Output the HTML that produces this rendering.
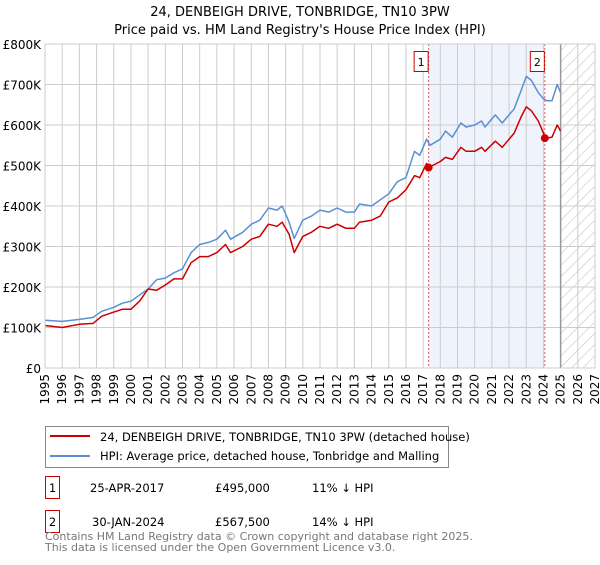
<!DOCTYPE html>
<html><head><meta charset="utf-8"><style>
body{margin:0;background:#fff;font-family:"Liberation Sans","DejaVu Sans",sans-serif;}
svg text{font-family:"DejaVu Sans","Liberation Sans",sans-serif;}
</style></head><body>
<svg id="chart" width="600" height="560" xmlns="http://www.w3.org/2000/svg">
<defs><pattern id="hatch" patternUnits="userSpaceOnUse" width="8" height="8" patternTransform="rotate(45)"><line x1="0" y1="0" x2="0" y2="8" stroke="#bbb" stroke-width="1"/></pattern></defs>
<text x="300" y="16" text-anchor="middle" font-size="13">24, DENBEIGH DRIVE, TONBRIDGE, TN10 3PW</text>
<text x="300" y="34" text-anchor="middle" font-size="13">Price paid vs. HM Land Registry's House Price Index (HPI)</text>
<g id="plot"></g>
<g>
<rect x="45.5" y="426.5" width="403" height="41" fill="#fff" stroke="#888"/>
<line x1="50" y1="436" x2="90" y2="436" stroke="#cc0000" stroke-width="2"/>
<text x="100" y="441" font-size="11.5">24, DENBEIGH DRIVE, TONBRIDGE, TN10 3PW (detached house)</text>
<line x1="50" y1="456" x2="90" y2="456" stroke="#5b8fd4" stroke-width="2"/>
<text x="100" y="460" font-size="11.5">HPI: Average price, detached house, Tonbridge and Malling</text>
</g>
<g font-size="11.5">
<rect x="45.5" y="476.5" width="14" height="22" fill="#fff" stroke="#cc0000"/>
<text x="52.5" y="492" text-anchor="middle">1</text>
<text x="90" y="492">25-APR-2017</text><text x="215" y="492">£495,000</text><text x="312" y="492">11% ↓ HPI</text>
</g>
<g font-size="11.5">
<rect x="45.5" y="510.5" width="14" height="22" fill="#fff" stroke="#cc0000"/>
<text x="52.5" y="526" text-anchor="middle">2</text>
<text x="92" y="526">30-JAN-2024</text><text x="215" y="526">£567,500</text><text x="312" y="526">14% ↓ HPI</text>
</g>
<text x="45" y="540" font-size="11" fill="#777">Contains HM Land Registry data © Crown copyright and database right 2025.</text>
<text x="45" y="551" font-size="11" fill="#777">This data is licensed under the Open Government Licence v3.0.</text>
</svg>
<script>
const hpiYears=[1995,1996,1997,1997.8,1998.3,1999,1999.5,2000,2000.5,2001,2001.5,2002,2002.5,2003,2003.5,2004,2004.5,2005,2005.5,2005.8,2006.5,2007,2007.5,2008,2008.5,2008.8,2009.2,2009.5,2010,2010.5,2011,2011.5,2012,2012.5,2013,2013.3,2014,2014.5,2015,2015.5,2016,2016.5,2016.8,2017.2,2017.4,2018,2018.3,2018.7,2019.2,2019.5,2020,2020.4,2020.6,2021.2,2021.6,2022.3,2022.7,2023.0,2023.3,2023.7,2024.0,2024.2,2024.5,2024.8,2025.0];
const hpiValues=[118,115,120,125,140,150,160,165,180,195,218,222,235,245,285,305,310,318,340,318,335,355,365,395,390,400,360,320,365,375,390,385,395,385,385,405,400,415,430,460,470,535,525,565,550,565,585,570,605,595,600,610,595,625,605,640,685,720,710,680,665,660,660,700,680];
const priceYears=[1995,1996,1997,1997.8,1998.3,1999,1999.5,2000,2000.5,2001,2001.5,2002,2002.5,2003,2003.5,2004,2004.5,2005,2005.5,2005.8,2006.5,2007,2007.5,2008,2008.5,2008.8,2009.2,2009.5,2010,2010.5,2011,2011.5,2012,2012.5,2013,2013.3,2014,2014.5,2015,2015.5,2016,2016.5,2016.8,2017.2,2017.32,2018,2018.3,2018.7,2019.2,2019.5,2020,2020.4,2020.6,2021.2,2021.6,2022.3,2022.7,2023.0,2023.3,2023.7,2024.0,2024.08,2024.5,2024.8,2025.0];
const priceValues=[105,100,108,110,128,138,145,145,165,195,192,205,220,220,260,275,275,285,305,285,300,318,325,355,350,360,330,285,325,335,350,345,355,345,345,360,365,375,410,420,440,475,470,505,495,510,520,515,545,535,535,545,535,560,545,580,620,645,635,610,580,567.5,570,600,585];
const saleYears=[2017.32,2024.08];
const saleValues=[495,567.5];
const saleLabels=["1","2"];
const yTicks=[0,100,200,300,400,500,600,700,800];
const yTickLabels=["£0","£100K","£200K","£300K","£400K","£500K","£600K","£700K","£800K"];
const xTicks=[1995,1996,1997,1998,1999,2000,2001,2002,2003,2004,2005,2006,2007,2008,2009,2010,2011,2012,2013,2014,2015,2016,2017,2018,2019,2020,2021,2022,2023,2024,2025,2026,2027];

const X0=45,X1=595,Y0=368,Y1=44;
const xs=y=>X0+(y-1995)/(2027-1995)*(X1-X0);
const ys=v=>Y0-v/800*(Y0-Y1);
const NS="http://www.w3.org/2000/svg";
const g=document.getElementById('plot');
function mk(t,a){const e=document.createElementNS(NS,t);for(const k in a)e.setAttribute(k,a[k]);g.appendChild(e);return e;}
// shaded region
let sh=mk('rect',{x:xs(saleYears[0]),y:Y1,width:xs(saleYears[1])-xs(saleYears[0]),height:Y0-Y1,fill:'#eef3fc'});


let ht=mk('rect',{x:xs(2025),y:Y1,width:X1-xs(2025),height:Y0-Y1,fill:'url(#hatch)'});


xTicks.forEach(t=>{
 const l=mk('line',{x1:xs(t),x2:xs(t),y1:Y1,y2:Y0,stroke:'#ccc','stroke-width':1});
 
 
 const tx=mk('text',{x:0,y:0,'font-size':12,'text-anchor':'end',transform:`translate(${xs(t)+4},${Y0+6}) rotate(-90)`});
 tx.textContent=t;
 
 
});
yTicks.forEach((t,i)=>{
 const l=mk('line',{x1:X0,x2:X1,y1:ys(t),y2:ys(t),stroke:'#ccc','stroke-width':1});
 
 
 const tx=mk('text',{x:X0-4,y:ys(t)+5,'font-size':12,'text-anchor':'end'});
 tx.textContent=yTickLabels[i];
 
 
});
let vl=mk('line',{x1:xs(2025),x2:xs(2025),y1:Y1,y2:Y0,stroke:'#999','stroke-width':1.5});


saleYears.forEach((y,i)=>{
 const l=mk('line',{x1:xs(y),x2:xs(y),y1:Y1,y2:Y0,stroke:'#e06060','stroke-width':1,'stroke-dasharray':'2,2'});
 
 
 const b=mk('rect',{x:xs(y)-14.5,y:51.5,width:14,height:20,fill:'#fff',stroke:'#cc0000'});
 
 
 const t=mk('text',{x:xs(y)-7.5,y:66,'font-size':11,'text-anchor':'middle'});
 t.textContent=saleLabels[i];
 
 
});
function line(xa,va,col,name){
 const p=mk('polyline',{points:xa.map((y,i)=>xs(y).toFixed(1)+','+ys(va[i]).toFixed(1)).join(' '),fill:'none',stroke:col,'stroke-width':1.5,'stroke-linejoin':'round'});
 
 
}
line(hpiYears,hpiValues,'#5b8fd4','hpi-line');
line(priceYears,priceValues,'#cc0000','price-line');
saleYears.forEach((y,i)=>{
 const c=mk('circle',{cx:xs(y),cy:ys(saleValues[i]),r:4,fill:'#cc0000'});
 
 
});
let ax=mk('rect',{x:X0,y:Y1,width:X1-X0,height:Y0-Y1,fill:'none',stroke:'#ccc'});


</script>
</body></html>
